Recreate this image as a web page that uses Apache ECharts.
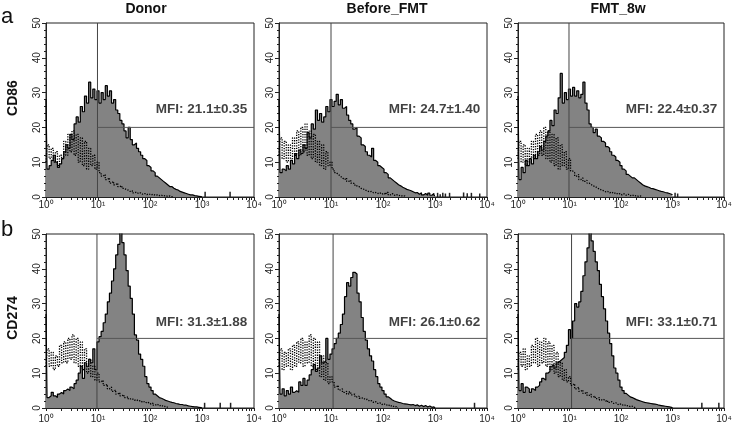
<!DOCTYPE html>
<html><head><meta charset="utf-8">
<script src="https://cdn.jsdelivr.net/npm/echarts@6/dist/echarts.min.js"></script>
<style>html,body{margin:0;padding:0;background:#fff}#c{width:735px;height:427px}</style>
</head><body><div id="c"></div>
<script>
// ---------- data ----------
const logBins = [0,0.04,0.08,0.12,0.16,0.2,0.24,0.28,0.32,0.36,0.4,0.44,0.48,0.52,0.56,0.6,0.64,0.68,0.72,0.76,
  0.8,0.84,0.88,0.92,0.96,1.0,1.04,1.08,1.12,1.16,1.2,1.24,1.28,1.32,1.36,1.4,1.44,1.48,1.52,1.56,
  1.6,1.64,1.68,1.72,1.76,1.8,1.84,1.88,1.92,1.96,2.0,2.04,2.08,2.12,2.16,2.2,2.24,2.28,2.32,2.36,
  2.4,2.44,2.48,2.52,2.56,2.6,2.64,2.68,2.72,2.76,2.8,2.84,2.88,2.92,2.96,3.0];

const panelTitles = ['Donor', 'Before_FMT', 'FMT_8w'];
const rowMarkers = ['CD86', 'CD274'];
const rowLetters = ['a', 'b'];
const xTickExponents = [0, 1, 2, 3, 4];
const xTickLabels = ['10\u2070', '10\u00b9', '10\u00b2', '10\u00b3', '10\u2074'];
const yTickValues = [0, 10, 20, 30, 40, 50];
const mfiLabels = ['MFI: 21.1\u00b10.35', 'MFI: 24.7\u00b11.40', 'MFI: 22.4\u00b10.37',
                   'MFI: 31.3\u00b11.88', 'MFI: 26.1\u00b10.62', 'MFI: 33.1\u00b10.71'];
const gateX = [0.99, 1.0, 0.99, 0.98, 1.04, 1.04];
const gateY = [20, 20, 20, 20, 20, 20];

// stained (filled) histograms, counts per log bin
const donorCD86 = [28,8,9,10.5,12,10,8.5,9.5,11,13,15,14,18,16.5,21,23,21.5,26,24.5,29,
  27,33,28.5,31,28,30.5,27,30,28,32,29,30.5,27,28,25,24,22,21,19,17,
  20,16.5,15,15.5,14,13,12,11,10.5,9,8.5,7.5,7,6,5.5,5,4.5,4,3.5,3,
  3,2.5,2.2,2,1.6,1.4,1.2,1,0.8,0.6,0.6,0.4,0.3,0.2,0.1,0];
const beforeCD86 = [28,7,8,7.5,9,8,10.5,9.5,12.5,11,13.5,12.5,15,14,18.5,17,21,19.5,25,22,
  24,21.5,23,26,24.5,28,26,27.5,29.5,26.5,28,25.5,26,23.5,22,21,19.5,20,17.5,17,
  15,14.5,13,12,11.5,14,10.5,10,9,8.5,8,7,6.5,5.5,5,4.5,4,3.5,3.2,2.8,
  2.5,2.2,2,1.8,1.5,1.2,1.3,0.8,1.2,0.6,1,0.5,1.1,0.5,1,0.4];
const fmtCD86 = [29,5,8.5,7,10.5,9,11,9.5,12,11,13,14.5,13.5,16,17.5,19,22,20.5,25,24,
  28.5,35.5,27,30,28,31,29,31.5,29,30.5,28.5,29.5,33,27,25,21,20,18.5,19.5,17.5,
  17,16,15.5,14.5,14,13,12,11.5,10.5,10,9,8,7.5,6.5,6,5.5,5.5,5,4.5,4,
  3.5,3.2,3,2.8,2.5,2.4,2.2,2,1.8,1.6,1.5,1.3,1.2,1,0.8,0.6];
const donorCD274 = [27,3,3.5,4.5,3.5,3,4,4.5,4,5,5.5,5,6,5.5,7,8,10,12,8.5,13,
  12,14,13,17,11,19,20.5,22,24.5,27,30.5,33,36.5,40,44,47,51,47.5,44,39.5,
  35,31.5,27,21,19.5,15.5,14,12,9,7,6,5,4,3.5,3,2.8,2.5,2.2,2,1.8,
  1.6,1.5,1.3,1.2,1,1,0.8,0.8,0.6,0.5,0.4,0.3,0.3,0.2,0.1,0];
const beforeCD274 = [27,4,5.5,3.5,5,4,6,4.5,5,4.5,7.5,6.5,8.5,6.5,8,9.5,11,12.5,10.5,11.5,
  15,13,13.5,20,14,15.5,17,18.5,20,21.5,24,27,32,36,35,37.5,39,38.5,33,30.5,
  26,22,19.5,17,15,13.5,11,9,7,6,5,4,3.2,2.8,2.3,2,1.8,1.6,1.5,1.3,
  1.2,1.1,1,0.9,1,0.7,0.9,0.5,0.8,0.4,0.7,0.3,0.6,0.2,0.3,0];
const fmtCD274 = [27,5,7,4.5,6,5.5,4.5,5.5,5,6,6.5,7.5,8.5,8,10,10.5,12,12.5,11.5,13,
  13.5,14,14.5,16,18,22.5,20,25,30,29,30.5,33.5,38,42,46,50.5,48,45,42,39.5,
  35.5,32,28.5,25,21.5,18.5,15,11.5,10,8,6,5,4.2,3.7,3.2,3,2.7,2.4,2.2,2,
  1.8,1.6,1.5,1.4,1.3,1.2,1.1,1,0.8,0.7,0.6,0.5,0.4,0.3,0.2,0];

// isotype control (dotted) histograms, counts per log bin
const donorIsoCD86 = [10,15,11,14,10,13,9,12,11,16,12,18,13,19,12,18,10,17,9,16,
  8,14,9,12,8,10,7,6,6.5,5,5.5,4,4.5,3.5,4,3,3.2,2.5,2.2,2,
  1.6,1.8,1.2,1.4,1,1.2,0.8,1,0.7,0.9,0.6,0.8,0.5,0.6,0.4,0.5,0.3,0.4,0.2,0.3,0.1,0];
const beforeIsoCD86 = [12,17,11,16,10,15,11,17,12,19,12,20,13,21,12,19,11,18,10,16,
  9,15,8,13,9,10,8,7,6.5,6,5.5,5,5.5,4.5,4.8,4,3.8,3.2,3,2.5,
  2.3,2,1.7,1.5,1.6,1.2,1.3,1,1.2,0.8,1.1,0.7,1.3,0.6,1,0.5,0.7,0.4,0.5,0.2,0.3,0];
const fmtIsoCD86 = [11,16,10,15,9,14,10,16,11,18,12,19,12,20,11,19,10,18,9,17,
  8,15,9,13,8,11,7.5,7,6,6.5,5,5.5,4.5,4.8,4,3.6,3.2,3,2.6,2.3,
  2,1.8,1.5,1.6,1.2,1.4,1,1.2,0.8,1,0.6,0.9,0.5,0.8,0.4,0.6,0.3,0.4,0.2,0.3,0];
const donorIsoCD274 = [12,17,12,16,11,15,12,18,13,19,13,20,14,21,13,20,12,19,11,17,
  10,14,9,12,8,10,7.5,8,6.5,6.8,5.5,6,4.8,5.2,4,4.4,3.5,3.8,3,3.2,
  2.6,2.7,2.2,2.4,2,2.1,1.6,1.9,1.4,1.6,1.1,1.4,0.8,1.1,0.6,0.8,0.4,0.5,0.2,0];
const beforeIsoCD274 = [12,17,11,16,12,17,11,18,12,19,13,20,12,19,13,21,12,20,11,19,
  9,15,8,13,7,9,7.5,6,6.5,5.2,5.5,4.5,4.8,4,4.6,3.8,4,3.2,3.4,2.8,
  2.9,2.4,2.5,2,2.1,1.6,1.8,1.3,1.5,1,1.2,0.8,1,0.5,0.7,0.3,0.4,0];
const fmtIsoCD274 = [11,16,12,17,11,15,12,18,13,20,12,19,13,20,12,19,11,18,10,16,
  9,13,8,11,7.5,9,6.5,7,5.5,6,4.8,5.2,4.2,4.6,3.6,4,3.2,3.4,2.7,3,
  2.3,2.5,2,2.2,1.6,1.8,1.3,1.5,1,1.2,0.8,1,0.6,0.7,0.4,0.5,0.2,0];

// isolated high-intensity events beyond 10^3: [log10 intensity, count]
const donorTailCD86 = [[3.06,1.5],[3.54,1.5]];
const beforeTailCD86 = [[3.05,1.2],[3.1,0.8],[3.15,1.2],[3.2,1],[3.28,1.2],[3.55,1.3],[3.62,1.1],[3.7,1.2],[3.86,1]];
const fmtTailCD86 = [[3.05,1.2],[3.1,1]];
const donorTailCD274 = [[3.05,1.5],[3.35,1.5],[3.55,1.5]];
const beforeTailCD274 = [[3.76,1.5]];
const fmtTailCD274 = [[3.57,1.5],[3.9,1.5]];

const stained = [donorCD86, beforeCD86, fmtCD86, donorCD274, beforeCD274, fmtCD274];
const isotype = [donorIsoCD86, beforeIsoCD86, fmtIsoCD86, donorIsoCD274, beforeIsoCD274, fmtIsoCD274];
const tails = [donorTailCD86, beforeTailCD86, fmtTailCD86, donorTailCD274, beforeTailCD274, fmtTailCD274];

// ---------- layout ----------
const colLeft = [46, 279, 518];
const colWidth = [208, 208, 206];
const rowTop = [23, 234];
const plotH = 174;
const labelMargin = [3, 6];

const minorLog = [];
for (let n = 0; n < 4; n++) for (let k = 1; k <= 9; k++) minorLog.push(n + Math.log10(k));
minorLog.push(4);

const pairs = vals => vals.map((v, i) => [logBins[i], v]);

const grids = [], xAxes = [], yAxes = [], series = [];
const fontFam = '"Liberation Sans", Arial, sans-serif';
for (let p = 0; p < 6; p++) {
  const r = Math.floor(p / 3), c = p % 3;
  grids.push({left: colLeft[c], top: rowTop[r], width: colWidth[c], height: plotH,
    show: true, borderColor: '#222', borderWidth: 1, backgroundColor: '#fff'});
  xAxes.push({gridIndex: p, type: 'value', min: 0, max: 4, interval: 1,
    axisLine: {show: true, lineStyle: {color: '#222', width: 1}},
    axisTick: {show: true, customValues: minorLog, length: 3, lineStyle: {color: '#222'}},
    axisLabel: {margin: labelMargin[r], fontSize: 10, color: '#222', fontFamily: fontFam,
      formatter: v => xTickLabels[xTickExponents.indexOf(Math.round(v))] || ''},
    splitLine: {show: false}});
  yAxes.push({gridIndex: p, type: 'value', min: yTickValues[0], max: yTickValues[yTickValues.length - 1], interval: 10,
    axisLine: {show: true, lineStyle: {color: '#222', width: 1}},
    axisTick: {show: true, length: 4, lineStyle: {color: '#222'}},
    minorTick: {show: true, splitNumber: 5, length: 2, lineStyle: {color: '#222'}},
    axisLabel: {rotate: 90, margin: 4, fontSize: 10, color: '#222', fontFamily: fontFam},
    splitLine: {show: false}});

  series.push({type: 'line', xAxisIndex: p, yAxisIndex: p, data: pairs(stained[p]),
    step: 'middle', symbol: 'none', z: 2,
    lineStyle: {color: '#000', width: 1.2}, areaStyle: {color: '#838383', opacity: 1}});
  series.push({type: 'bar', xAxisIndex: p, yAxisIndex: p, data: tails[p], barWidth: 1.5, z: 2,
    itemStyle: {color: '#222'}});
  series.push({type: 'line', xAxisIndex: p, yAxisIndex: p, symbol: 'none', z: 3,
    data: [[gateX[p], 0], [gateX[p], 50]], lineStyle: {color: '#444', width: 1}});
  series.push({type: 'line', xAxisIndex: p, yAxisIndex: p, symbol: 'none', z: 3,
    data: [[gateX[p], gateY[p]], [4, gateY[p]]], lineStyle: {color: '#555', width: 1}});
  series.push({type: 'line', xAxisIndex: p, yAxisIndex: p, data: pairs(isotype[p]),
    step: 'middle', symbol: 'none', z: 4,
    lineStyle: {color: '#000', width: 1.3, type: [1.3, 1.3]}});
  series.push({type: 'scatter', xAxisIndex: p, yAxisIndex: p, z: 5,
    data: [[3.87, r === 0 ? 25.3 : 24.5]], symbolSize: 0.1, itemStyle: {color: 'rgba(0,0,0,0)'},
    label: {show: true, position: 'left', distance: 0, formatter: mfiLabels[p],
      fontSize: 13.5, fontWeight: 'bold', color: '#111', fontFamily: fontFam}});
}

const graphic = [];
const titleX = [146, 387, 618];
panelTitles.forEach((t, i) => graphic.push({type: 'text', x: titleX[i], y: 9,
  style: {text: t, font: 'bold 14px ' + fontFam, fill: '#111', textAlign: 'center', textVerticalAlign: 'middle'}}));
const markerY = [98, 318];
rowMarkers.forEach((t, i) => graphic.push({type: 'text', x: 13, y: markerY[i], rotation: Math.PI / 2,
  style: {text: t, font: 'bold 14px ' + fontFam, fill: '#111', textAlign: 'center', textVerticalAlign: 'middle'}}));
const letterY = [17, 230];
rowLetters.forEach((t, i) => graphic.push({type: 'text', x: 1, y: letterY[i],
  style: {text: t, font: '22px ' + fontFam, fill: '#111', textAlign: 'left', textVerticalAlign: 'middle'}}));

const chart = echarts.init(document.getElementById('c'), null, {renderer: 'canvas'});
chart.setOption({animation: false, backgroundColor: '#fff', grid: grids, xAxis: xAxes, yAxis: yAxes,
  series: series, graphic: graphic});
</script></body></html>
